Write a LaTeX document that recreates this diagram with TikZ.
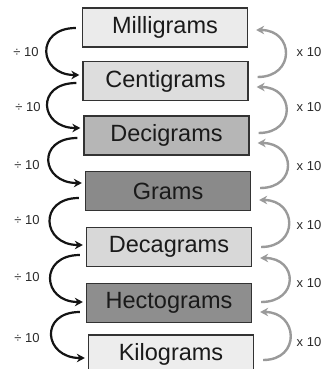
\documentclass[tikz,border=0pt]{standalone}
\usepackage{fontspec}
\setmainfont{Liberation Sans}
\usetikzlibrary{arrows.meta,calc}

\definecolor{boxline}{HTML}{333333}
\definecolor{txt}{HTML}{1A1A1A}
\definecolor{lbltxt}{HTML}{2A2A2A}
\definecolor{upgray}{HTML}{9A9A9A}
\definecolor{fillMg}{HTML}{EBEBEB}
\definecolor{fillCg}{HTML}{DDDDDD}
\definecolor{fillDg}{HTML}{B6B6B6}
\definecolor{fillG}{HTML}{8A8A8A}
\definecolor{fillDag}{HTML}{D8D8D8}
\definecolor{fillHg}{HTML}{8E8E8E}
\definecolor{fillKg}{HTML}{EDEDED}

\begin{document}
\begin{tikzpicture}[x=1pt,y=-1pt,
  unit/.style={draw=boxline, line width=1.3pt, minimum width=165pt,
    minimum height=39pt, inner sep=0pt, text=txt,
    font=\fontsize{23.5}{26}\selectfont},
  lbl/.style={inner sep=0pt, text=lbltxt, font=\fontsize{13}{15}\selectfont},
  divarrow/.style={line width=2.2pt, draw=black!92,
    -{Stealth[length=8pt,width=8.5pt]}},
  mularrow/.style={line width=2.4pt, draw=upgray,
    -{Stealth[length=8pt,width=8.5pt]}}]
\useasboundingbox (0,0) rectangle (323,369);

% unit boxes, smallest unit on top
\node[unit, fill=fillMg]  (mg)  at (165,27.5)  {Milligrams};
\node[unit, fill=fillCg]  (cg)  at (165.5,81)  {Centigrams};
\node[unit, fill=fillDg]  (dg)  at (166.5,135.5) {Decigrams};
\node[unit, fill=fillG]   (g)   at (168,191)   {Grams};
\node[unit, fill=fillDag] (dag) at (169,247)   {Decagrams};
\node[unit, fill=fillHg]  (hg)  at (169,303)   {Hectograms};
\node[unit, fill=fillKg]  (kg)  at (171,354.5) {Kilograms};

% divide by ten going down (left side)
\draw[divarrow] ($(mg.west)+(-6,0.5)$) .. controls +(-41,0) and +(-41,0) .. ($(cg.west)+(-3,-6)$);
\draw[divarrow] ($(cg.west)+(-6,2)$)   .. controls +(-41,0) and +(-41,0) .. ($(dg.west)+(-3,-7.5)$);
\draw[divarrow] ($(dg.west)+(-6,2.5)$) .. controls +(-41,0) and +(-41,0) .. ($(g.west)+(-3,-8)$);
\draw[divarrow] ($(g.west)+(-6,7)$)    .. controls +(-41,0) and +(-41,0) .. ($(dag.west)+(-3,-2)$);
\draw[divarrow] ($(dag.west)+(-6,8)$)  .. controls +(-41,0) and +(-41,0) .. ($(hg.west)+(-3,-1)$);
\draw[divarrow] ($(hg.west)+(-6,9)$)   .. controls +(-41,0) and +(-41,0) .. ($(kg.west)+(-3,3.5)$);

% multiply by ten going up (right side)
\draw[mularrow] ($(cg.east)+(9,-4)$)   .. controls +(38,0) and +(38,0) .. ($(mg.east)+(8,2.5)$);
\draw[mularrow] ($(dg.east)+(9,-2.5)$) .. controls +(38,0) and +(38,0) .. ($(cg.east)+(8,6)$);
\draw[mularrow] ($(g.east)+(9,-3)$)    .. controls +(38,0) and +(38,0) .. ($(dg.east)+(8,7.5)$);
\draw[mularrow] ($(dag.east)+(9,0)$)   .. controls +(38,0) and +(38,0) .. ($(g.east)+(8,9)$);
\draw[mularrow] ($(hg.east)+(9,-1)$)   .. controls +(38,0) and +(38,0) .. ($(dag.east)+(8,11)$);
\draw[mularrow] ($(kg.east)+(9,5.5)$)  .. controls +(38,0) and +(38,0) .. ($(hg.east)+(8,9)$);

% step labels
\node[lbl] (d1) at (26,52)  {÷ 10};
\node[lbl] (d2) at (28,107) {÷ 10};
\node[lbl] (d3) at (27,165) {÷ 10};
\node[lbl] (d4) at (27,220) {÷ 10};
\node[lbl] (d5) at (27,277) {÷ 10};
\node[lbl] (d6) at (27,338) {÷ 10};

\node[lbl] (m1) at (309,52)  {x 10};
\node[lbl] (m2) at (309,107) {x 10};
\node[lbl] (m3) at (309,166) {x 10};
\node[lbl] (m4) at (309,225) {x 10};
\node[lbl] (m5) at (309,283) {x 10};
\node[lbl] (m6) at (309,342) {x 10};
\end{tikzpicture}
\end{document}
